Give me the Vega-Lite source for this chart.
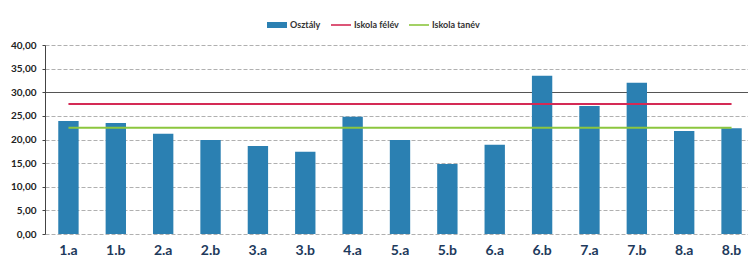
{
  "$schema": "https://vega.github.io/schema/vega-lite/v6.json",
  "width": 710,
  "height": 189,
  "autosize": "none",
  "padding": {"left": 45, "top": 45, "right": 0, "bottom": 32},
  "background": "white",
  "data": {
    "values": [
      {"osztaly": "1.a", "ertek": 23.9, "felev": 27.5, "tanev": 22.5},
      {"osztaly": "1.b", "ertek": 23.5, "felev": 27.5, "tanev": 22.5},
      {"osztaly": "2.a", "ertek": 21.2, "felev": 27.5, "tanev": 22.5},
      {"osztaly": "2.b", "ertek": 19.9, "felev": 27.5, "tanev": 22.5},
      {"osztaly": "3.a", "ertek": 18.6, "felev": 27.5, "tanev": 22.5},
      {"osztaly": "3.b", "ertek": 17.4, "felev": 27.5, "tanev": 22.5},
      {"osztaly": "4.a", "ertek": 24.8, "felev": 27.5, "tanev": 22.5},
      {"osztaly": "5.a", "ertek": 19.9, "felev": 27.5, "tanev": 22.5},
      {"osztaly": "5.b", "ertek": 14.8, "felev": 27.5, "tanev": 22.5},
      {"osztaly": "6.a", "ertek": 18.9, "felev": 27.5, "tanev": 22.5},
      {"osztaly": "6.b", "ertek": 33.5, "felev": 27.5, "tanev": 22.5},
      {"osztaly": "7.a", "ertek": 27.1, "felev": 27.5, "tanev": 22.5},
      {"osztaly": "7.b", "ertek": 32.0, "felev": 27.5, "tanev": 22.5},
      {"osztaly": "8.a", "ertek": 21.8, "felev": 27.5, "tanev": 22.5},
      {"osztaly": "8.b", "ertek": 22.4, "felev": 27.5, "tanev": 22.5}
    ]
  },
  "encoding": {
    "x": {
      "field": "osztaly",
      "type": "nominal",
      "sort": null,
      "title": null,
      "scale": {"paddingInner": 0.57, "paddingOuter": 0.28},
      "axis": {
        "labelAngle": 0,
        "labelFont": "Lato",
        "labelFontWeight": "bold",
        "labelFontSize": 14,
        "labelColor": "#1e3a5c",
        "labelPadding": 9,
        "ticks": false,
        "domain": false
      }
    }
  },
  "layer": [
    {
      "mark": {"type": "bar"},
      "encoding": {
        "y": {
          "field": "ertek",
          "type": "quantitative",
          "title": null,
          "scale": {"domain": [0, 40], "nice": false},
          "axis": {
            "values": [0, 5, 10, 15, 20, 25, 30, 35, 40],
            "format": ".2f",
            "labelOverlap": false,
            "labelFont": "Lato",
            "labelFontWeight": "bold",
            "labelFontSize": 10,
            "labelColor": "#222222",
            "labelPadding": 6,
            "ticks": true,
            "tickSize": 3,
            "tickColor": "#444444",
            "domain": true,
            "domainColor": "#444444",
            "gridColor": {"condition": {"test": "datum.value === 30", "value": "#555555"}, "value": "#b0b0b0"},
            "gridDash": {"condition": {"test": "datum.value === 30", "value": []}, "value": [4, 2]},
            "gridWidth": 1
          }
        },
        "color": {
          "datum": "Osztály",
          "type": "nominal",
          "scale": {
            "domain": ["Osztály", "Iskola félév", "Iskola tanév"],
            "range": ["#2b80b2", "#d42a55", "#8cc63e"]
          },
          "legend": {
            "title": null,
            "orient": "none",
            "direction": "horizontal",
            "legendX": 222,
            "legendY": -30,
            "labelFont": "Lato",
            "labelFontWeight": "bold",
            "labelFontSize": 9,
            "labelColor": "#333333",
            "symbolSize": 400,
            "symbolType": "M-1,-0.3H1V0.3H-1Z",
            "columnPadding": 10,
            "labelOffset": 3,
            "encode": {
              "symbols": {
                "update": {
                  "shape": {"signal": "datum.value === 'Osztály' ? 'M-1,-0.3H1V0.3H-1Z' : 'M-1,-0.08H1V0.08H-1Z'"},
                  "fill": {"scale": "color", "field": "value"},
                  "strokeWidth": {"value": 0},
                  "opacity": {"value": 1}
                }
              }
            }
          }
        }
      }
    },
    {
      "mark": {"type": "line", "strokeWidth": 2},
      "encoding": {
        "y": {
          "field": "felev",
          "type": "quantitative",
          "title": null,
          "axis": {
            "values": [0, 5, 10, 15, 20, 25, 30, 35, 40],
            "format": ".2f",
            "labelOverlap": false,
            "labelFont": "Lato",
            "labelFontWeight": "bold",
            "labelFontSize": 10,
            "labelColor": "#222222",
            "labelPadding": 6,
            "ticks": true,
            "tickSize": 3,
            "tickColor": "#444444",
            "domain": true,
            "domainColor": "#444444",
            "gridColor": {"condition": {"test": "datum.value === 30", "value": "#555555"}, "value": "#b0b0b0"},
            "gridDash": {"condition": {"test": "datum.value === 30", "value": []}, "value": [4, 2]},
            "gridWidth": 1
          }
        },
        "color": {"datum": "Iskola félév", "type": "nominal"}
      }
    },
    {
      "mark": {"type": "line", "strokeWidth": 2},
      "encoding": {
        "y": {
          "field": "tanev",
          "type": "quantitative",
          "title": null,
          "axis": {
            "values": [0, 5, 10, 15, 20, 25, 30, 35, 40],
            "format": ".2f",
            "labelOverlap": false,
            "labelFont": "Lato",
            "labelFontWeight": "bold",
            "labelFontSize": 10,
            "labelColor": "#222222",
            "labelPadding": 6,
            "ticks": true,
            "tickSize": 3,
            "tickColor": "#444444",
            "domain": true,
            "domainColor": "#444444",
            "gridColor": {"condition": {"test": "datum.value === 30", "value": "#555555"}, "value": "#b0b0b0"},
            "gridDash": {"condition": {"test": "datum.value === 30", "value": []}, "value": [4, 2]},
            "gridWidth": 1
          }
        },
        "color": {"datum": "Iskola tanév", "type": "nominal"}
      }
    }
  ],
  "config": {
    "view": {"stroke": null},
    "locale": {
      "number": {"decimal": ",", "thousands": " ", "grouping": [3], "currency": ["", " Ft"]}
    },
    "axisY": {"labelOverlap": false}
  }
}
